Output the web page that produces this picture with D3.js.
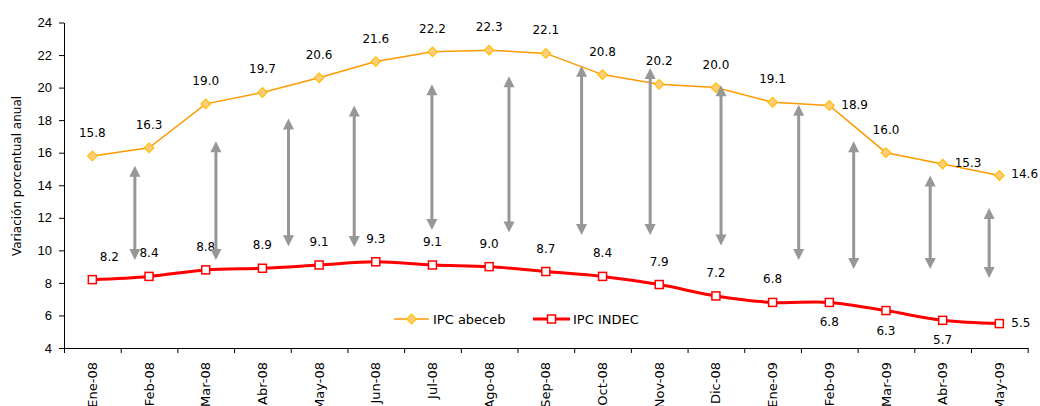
<!DOCTYPE html>
<html>
<head>
<meta charset="utf-8">
<script src="https://cdnjs.cloudflare.com/ajax/libs/d3/7.8.5/d3.min.js"></script>
<style>
    body { margin: 0; background: #fff; }
    svg { display: block; font-family: "DejaVu Sans", Verdana, sans-serif; }
    .axis text { font-size: 13px; fill: #000; }
    .axis path, .axis line { stroke: #000; stroke-width: 1; }
    .data_label { font-size: 12px; fill: #000; }
    .legend text { font-size: 13px; fill: #000; }
    .y_title { font-size: 12px; fill: #000; }
</style>
</head>
<body>
<svg id="chart" width="1040" height="406"></svg>
<script>
var months = ["Ene-08", "Feb-08", "Mar-08", "Abr-08", "May-08", "Jun-08", "Jul-08", "Ago-08", "Sep-08",
    "Oct-08", "Nov-08", "Dic-08", "Ene-09", "Feb-09", "Mar-09", "Abr-09", "May-09"];
var ipcAbeceb = [15.8, 16.3, 19.0, 19.7, 20.6, 21.6, 22.2, 22.3, 22.1, 20.8, 20.2, 20.0, 19.1, 18.9, 16.0, 15.3, 14.6];
var ipcIndec = [8.2, 8.4, 8.8, 8.9, 9.1, 9.3, 9.1, 9.0, 8.7, 8.4, 7.9, 7.2, 6.8, 6.8, 6.3, 5.7, 5.5];
var yTicks = [4, 6, 8, 10, 12, 14, 16, 18, 20, 22, 24];

// double arrows showing the gap: where they sit (in months) and their ends (in %)
var gapAt = [0.75, 2.18, 3.46, 4.62, 5.99, 7.35, 8.63, 9.84, 11.09, 12.46, 13.43, 14.78, 15.82];
var gapTop = [15.2, 16.7, 18.1, 18.9, 20.2, 20.7, 21.35, 21.2, 20.15, 18.95, 16.7, 14.6, 12.6];
var gapBottom = [9.4, 9.4, 10.25, 10.2, 11.25, 11.1, 10.95, 10.95, 10.3, 9.4, 8.85, 8.85, 8.3];

var svg = d3.select("#chart");

var plotLeft = 64, plotRight = 1027.7, plotTop = 22.5, plotBottom = 348;

var xScale = d3.scaleBand()
    .domain(months)
    .range([plotLeft, plotRight])
    .padding(0);

// same axis but in month units, used for ticks between months and for the arrows
var xIndex = d3.scaleLinear()
    .domain([-0.5, months.length - 0.5])
    .range([plotLeft, plotRight]);

var yScale = d3.scaleLinear()
    .domain([4, 24])
    .range([plotBottom, plotTop]);

function cx(d, i) {
    return xScale(months[i]) + xScale.bandwidth() / 2;
}

// y axis
svg.append("g")
    .attr("class", "axis axis--y")
    .attr("transform", "translate(" + plotLeft + ",0)")
    .call(d3.axisLeft(yScale).tickValues(yTicks).tickSize(5).tickSizeOuter(0).tickPadding(7));

// x axis: ticks between the months
svg.append("g")
    .attr("class", "axis axis--x")
    .attr("transform", "translate(0," + plotBottom + ")")
    .call(d3.axisBottom(xIndex)
        .tickValues(d3.range(-0.5, months.length, 1))
        .tickSize(5)
        .tickSizeOuter(0)
        .tickFormat(""));

svg.append("g")
    .attr("class", "axis")
    .selectAll("text")
    .data(months)
    .enter().append("text")
    .attr("transform", function(d) {
        return "translate(" + (xScale(d) + xScale.bandwidth() / 2) + "," + (plotBottom + 14) + ") rotate(-90)";
    })
    .attr("text-anchor", "end")
    .attr("dy", "0.35em")
    .text(function(d) { return d; });

// y title
svg.append("text")
    .attr("class", "y_title")
    .attr("transform", "translate(17," + 176 + ") rotate(-90)")
    .attr("text-anchor", "middle")
    .attr("dy", "0.35em")
    .text("Variación porcentual anual");

// abeceb line
var lineAbeceb = d3.line()
    .x(function(d, i) { return cx(d, i); })
    .y(function(d) { return yScale(d); });

svg.append("path")
    .datum(ipcAbeceb)
    .attr("fill", "none")
    .attr("stroke", "#ff9900")
    .attr("stroke-width", 1.5)
    .attr("d", lineAbeceb);

svg.append("g")
    .selectAll("path")
    .data(ipcAbeceb)
    .enter().append("path")
    .attr("d", d3.symbol().type(d3.symbolSquare).size(46))
    .attr("transform", function(d, i) {
        return "translate(" + cx(d, i) + "," + yScale(d) + ") rotate(45)";
    })
    .attr("fill", "#ffcc80")
    .attr("stroke", "#ffc000")
    .attr("stroke-width", 1.2);

// INDEC line (smoothed)
var lineIndec = d3.line()
    .curve(d3.curveCatmullRom.alpha(0))
    .x(function(d, i) { return cx(d, i); })
    .y(function(d) { return yScale(d); });

svg.append("path")
    .datum(ipcIndec)
    .attr("fill", "none")
    .attr("stroke", "#ff0000")
    .attr("stroke-width", 3)
    .attr("d", lineIndec);

svg.append("g")
    .selectAll("rect")
    .data(ipcIndec)
    .enter().append("rect")
    .attr("x", function(d, i) { return cx(d, i) - 4; })
    .attr("y", function(d) { return yScale(d) - 4; })
    .attr("width", 8)
    .attr("height", 8)
    .attr("fill", "#fff")
    .attr("stroke", "#ff0000")
    .attr("stroke-width", 1.5);

// value labels
function placeAbeceb(i) {
    return (i == 13 || i >= 15) ? "right" : "above";
}
function placeIndec(i) {
    if (i == 0) return "aboveRight";
    if (i == months.length - 1) return "right";
    return i >= 13 ? "below" : "above";
}

function addLabels(values, place) {
    svg.append("g")
        .selectAll("text")
        .data(values)
        .enter().append("text")
        .attr("class", "data_label")
        .attr("x", function(d, i) {
            var p = place(i);
            if (p == "right") return cx(d, i) + 12;
            if (p == "aboveRight") return cx(d, i) + 17;
            return cx(d, i);
        })
        .attr("y", function(d, i) {
            var p = place(i);
            if (p == "above" || p == "aboveRight") return yScale(d) - 19;
            if (p == "below") return yScale(d) + 24;
            return yScale(d) + 3;
        })
        .attr("text-anchor", function(d, i) {
            return place(i) == "right" ? "start" : "middle";
        })
        .text(function(d) { return d.toFixed(1); });
}

addLabels(ipcAbeceb, placeAbeceb);
addLabels(ipcIndec, placeIndec);

// legend
var legendItems = [
    { label: "IPC abeceb", x: 394 },
    { label: "IPC INDEC", x: 533 }
];

var legend = svg.append("g")
    .attr("class", "legend")
    .attr("transform", "translate(0,319)");

legend.append("line")
    .attr("x1", legendItems[0].x).attr("x2", legendItems[0].x + 35)
    .attr("stroke", "#ff9900").attr("stroke-width", 1.5);
legend.append("path")
    .attr("d", d3.symbol().type(d3.symbolSquare).size(46))
    .attr("transform", "translate(" + (legendItems[0].x + 17.5) + ",0) rotate(45)")
    .attr("fill", "#ffcc80")
    .attr("stroke", "#ffc000")
    .attr("stroke-width", 1.2);

legend.append("line")
    .attr("x1", legendItems[1].x).attr("x2", legendItems[1].x + 37)
    .attr("stroke", "#ff0000").attr("stroke-width", 3);
legend.append("rect")
    .attr("x", legendItems[1].x + 18.5 - 4).attr("y", -4)
    .attr("width", 8).attr("height", 8)
    .attr("fill", "#fff")
    .attr("stroke", "#ff0000")
    .attr("stroke-width", 1.5);

legend.selectAll("text")
    .data(legendItems)
    .enter().append("text")
    .attr("x", function(d, i) { return d.x + (i == 0 ? 39 : 40); })
    .attr("y", 4.5)
    .text(function(d) { return d.label; });

// gap arrows
var headLen = 11, headHalf = 5.5;

var arrows = svg.append("g")
    .attr("class", "gap_arrows")
    .selectAll("g")
    .data(gapAt)
    .enter().append("g");

arrows.append("line")
    .attr("x1", function(d) { return xIndex(d); })
    .attr("x2", function(d) { return xIndex(d); })
    .attr("y1", function(d, i) { return yScale(gapTop[i]) + headLen - 1; })
    .attr("y2", function(d, i) { return yScale(gapBottom[i]) - headLen + 1; })
    .attr("stroke", "#979797")
    .attr("stroke-width", 3);

arrows.append("path")
    .attr("fill", "#979797")
    .attr("d", function(d, i) {
        var x = xIndex(d), t = yScale(gapTop[i]), b = yScale(gapBottom[i]);
        return "M" + x + "," + t + "L" + (x + headHalf) + "," + (t + headLen) + "L" + (x - headHalf) + "," + (t + headLen) + "Z" +
            "M" + x + "," + b + "L" + (x + headHalf) + "," + (b - headLen) + "L" + (x - headHalf) + "," + (b - headLen) + "Z";
    });
</script>
</body>
</html>
